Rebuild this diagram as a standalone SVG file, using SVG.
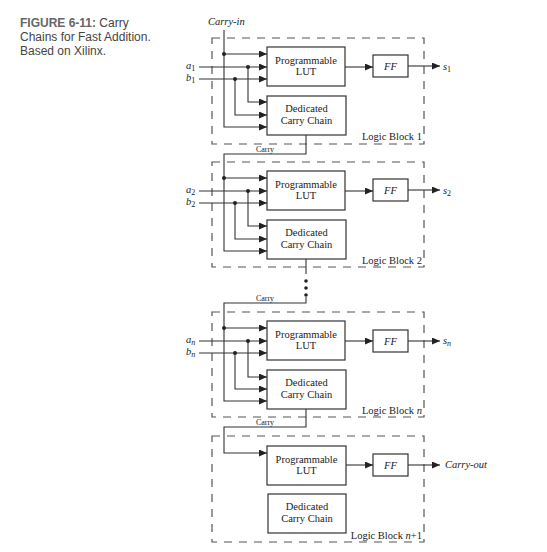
<svg xmlns="http://www.w3.org/2000/svg" width="547" height="552" viewBox="0 0 547 552">
<style>
.cap{font-family:"Liberation Sans","Noto Sans",sans-serif;font-size:12px;fill:#444}
.capb{font-weight:bold;fill:#666}
.t{font-family:"Liberation Serif","Times New Roman",serif;font-size:10.5px;fill:#222}
.it{font-style:italic}
.sm{font-size:8px}
.box{fill:#fff;stroke:#333;stroke-width:1.2}
.dash{fill:none;stroke:#555;stroke-width:1.2;stroke-dasharray:8 7}
.w{fill:none;stroke:#333;stroke-width:1.1}
.dot{fill:#222}
</style>
<defs>
<marker id="ah" markerUnits="userSpaceOnUse" markerWidth="9" markerHeight="8" refX="8" refY="3.5" orient="auto">
<path d="M0,0 L8,3.5 L0,7 z" fill="#222"/>
</marker>
</defs>
<rect width="547" height="552" fill="#fff"/>

<g id="caption">
<text class="cap" x="20" y="26.5"><tspan class="capb">FIGURE 6-11:</tspan> Carry</text>
<text class="cap" x="20" y="40.9">Chains for Fast Addition.</text>
<text class="cap" x="20" y="55.3">Based on Xilinx.</text>
</g>

<g id="block1">
<rect class="dash" x="212" y="38" width="212" height="106"/>
<rect class="box" x="267" y="47" width="78" height="39"/>
<text class="t" x="306" y="64" text-anchor="middle">Programmable</text>
<text class="t" x="306" y="75" text-anchor="middle">LUT</text>
<rect class="box" x="267" y="96" width="79" height="39"/>
<text class="t" x="306.5" y="112" text-anchor="middle">Dedicated</text>
<text class="t" x="306.5" y="124" text-anchor="middle">Carry Chain</text>
<rect class="box" x="373" y="55" width="35" height="22"/>
<text class="t it" x="390.5" y="70" text-anchor="middle">FF</text>
<text class="t" x="422" y="140" text-anchor="end">Logic Block 1</text>
<text class="t it" x="186" y="69">a<tspan class="sm" font-style="normal" dy="2">1</tspan></text>
<text class="t it" x="186" y="81">b<tspan class="sm" font-style="normal" dy="2">1</tspan></text>
<text class="t it" x="443" y="70">s<tspan class="sm" font-style="normal" dy="2">1</tspan></text>
</g>

<g id="block2">
<rect class="dash" x="212" y="162" width="212" height="105"/>
<rect class="box" x="267" y="171" width="78" height="39"/>
<text class="t" x="306" y="188" text-anchor="middle">Programmable</text>
<text class="t" x="306" y="199" text-anchor="middle">LUT</text>
<rect class="box" x="267" y="220" width="79" height="39"/>
<text class="t" x="306.5" y="236" text-anchor="middle">Dedicated</text>
<text class="t" x="306.5" y="248" text-anchor="middle">Carry Chain</text>
<rect class="box" x="373" y="179" width="35" height="22"/>
<text class="t it" x="390.5" y="194" text-anchor="middle">FF</text>
<text class="t" x="422" y="264" text-anchor="end">Logic Block 2</text>
<text class="t it" x="186" y="193">a<tspan class="sm" font-style="normal" dy="2">2</tspan></text>
<text class="t it" x="186" y="205">b<tspan class="sm" font-style="normal" dy="2">2</tspan></text>
<text class="t it" x="443" y="194">s<tspan class="sm" font-style="normal" dy="2">2</tspan></text>
</g>

<g id="blockn">
<rect class="dash" x="212" y="312" width="212" height="105"/>
<rect class="box" x="267" y="321" width="78" height="39"/>
<text class="t" x="306" y="338" text-anchor="middle">Programmable</text>
<text class="t" x="306" y="349" text-anchor="middle">LUT</text>
<rect class="box" x="267" y="370" width="79" height="39"/>
<text class="t" x="306.5" y="386" text-anchor="middle">Dedicated</text>
<text class="t" x="306.5" y="398" text-anchor="middle">Carry Chain</text>
<rect class="box" x="373" y="330" width="35" height="22"/>
<text class="t it" x="390.5" y="345" text-anchor="middle">FF</text>
<text class="t" x="422" y="414" text-anchor="end">Logic Block <tspan class="it">n</tspan></text>
<text class="t it" x="186" y="343">a<tspan class="sm" dy="2">n</tspan></text>
<text class="t it" x="186" y="355">b<tspan class="sm" dy="2">n</tspan></text>
<text class="t it" x="443" y="344">s<tspan class="sm" dy="2">n</tspan></text>
</g>

<g id="blockn1">
<rect class="dash" x="212" y="436" width="212" height="106"/>
<rect class="box" x="267" y="446" width="79" height="39"/>
<text class="t" x="306.5" y="463" text-anchor="middle">Programmable</text>
<text class="t" x="306.5" y="474" text-anchor="middle">LUT</text>
<rect class="box" x="268" y="494" width="78" height="39"/>
<text class="t" x="307" y="510" text-anchor="middle">Dedicated</text>
<text class="t" x="307" y="522" text-anchor="middle">Carry Chain</text>
<rect class="box" x="373" y="454" width="35" height="22"/>
<text class="t it" x="390.5" y="469" text-anchor="middle">FF</text>
<text class="t" x="422" y="539" text-anchor="end">Logic Block <tspan class="it">n</tspan>+1</text>
<text class="t it" x="445" y="468">Carry-out</text>
</g>

<g id="connectors">
<text class="t it" x="208" y="25">Carry-in</text>
<path class="w" d="M224,30 V127 H267" marker-end="url(#ah)"/>
<path class="w" d="M224,54 H267" marker-end="url(#ah)"/>
<path class="w" d="M199,67 H267" marker-end="url(#ah)"/>
<path class="w" d="M199,79 H267" marker-end="url(#ah)"/>
<path class="w" d="M248,67 V102 H267" marker-end="url(#ah)"/>
<path class="w" d="M235,79 V115 H267" marker-end="url(#ah)"/>
<path class="w" d="M345,67 H373" marker-end="url(#ah)"/>
<path class="w" d="M408,66 H440" marker-end="url(#ah)"/>
<circle class="dot" cx="224" cy="54" r="2"/>
<circle class="dot" cx="248" cy="67" r="2"/>
<circle class="dot" cx="235" cy="79" r="2"/>
<path class="w" d="M306,135 V154 H224 V251 H267" marker-end="url(#ah)"/>
<text class="t sm" x="265" y="152" text-anchor="middle">Carry</text>
<path class="w" d="M224,178 H267" marker-end="url(#ah)"/>
<path class="w" d="M199,191 H267" marker-end="url(#ah)"/>
<path class="w" d="M199,203 H267" marker-end="url(#ah)"/>
<path class="w" d="M248,191 V226 H267" marker-end="url(#ah)"/>
<path class="w" d="M235,203 V239 H267" marker-end="url(#ah)"/>
<path class="w" d="M345,191 H373" marker-end="url(#ah)"/>
<path class="w" d="M408,190 H440" marker-end="url(#ah)"/>
<circle class="dot" cx="224" cy="178" r="2"/>
<circle class="dot" cx="248" cy="191" r="2"/>
<circle class="dot" cx="235" cy="203" r="2"/>
<path class="w" d="M306,259 V274"/>
<circle class="dot" cx="306" cy="281" r="1.8"/>
<circle class="dot" cx="306" cy="288" r="1.8"/>
<circle class="dot" cx="306" cy="295" r="1.8"/>
<path class="w" d="M306,297 V303 H224 V401 H267" marker-end="url(#ah)"/>
<text class="t sm" x="265" y="301" text-anchor="middle">Carry</text>
<path class="w" d="M224,328 H267" marker-end="url(#ah)"/>
<path class="w" d="M199,341 H267" marker-end="url(#ah)"/>
<path class="w" d="M199,353 H267" marker-end="url(#ah)"/>
<path class="w" d="M248,341 V377 H267" marker-end="url(#ah)"/>
<path class="w" d="M235,353 V389 H267" marker-end="url(#ah)"/>
<path class="w" d="M345,341 H373" marker-end="url(#ah)"/>
<path class="w" d="M408,341 H440" marker-end="url(#ah)"/>
<circle class="dot" cx="224" cy="328" r="2"/>
<circle class="dot" cx="248" cy="341" r="2"/>
<circle class="dot" cx="235" cy="353" r="2"/>
<path class="w" d="M306,409 V427 H224 V453 H267" marker-end="url(#ah)"/>
<text class="t sm" x="265" y="425" text-anchor="middle">Carry</text>
<path class="w" d="M346,465 H373" marker-end="url(#ah)"/>
<path class="w" d="M408,465 H440" marker-end="url(#ah)"/>
</g>
</svg>
